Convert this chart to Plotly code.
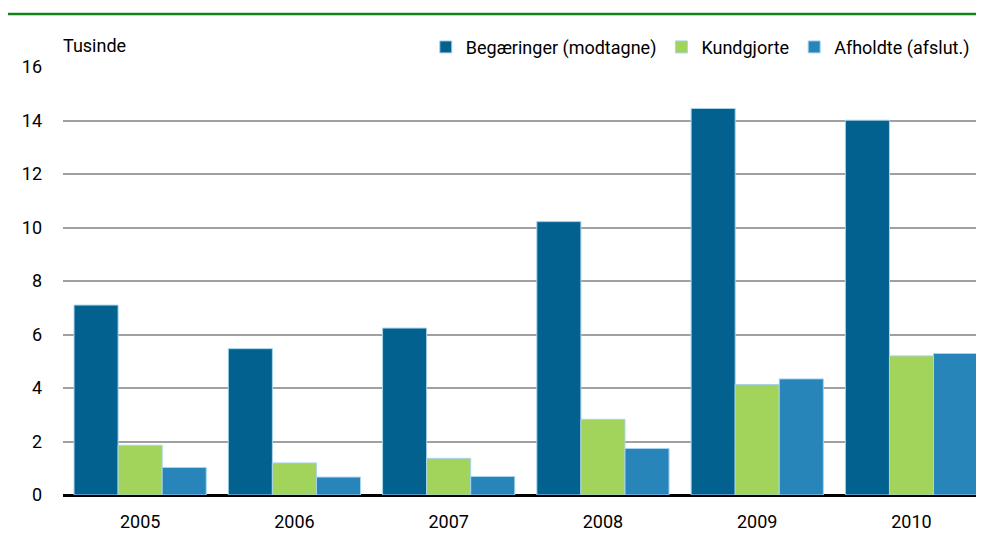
import plotly.graph_objects as go

years = ['2005', '2006', '2007', '2008', '2009', '2010']
begaeringer = [7.1, 5.47, 6.24, 10.22, 14.45, 14.01]
kundgjorte = [1.86, 1.2, 1.37, 2.83, 4.13, 5.2]
afholdte = [1.03, 0.67, 0.69, 1.74, 4.34, 5.29]

names = ['Begæringer (modtagne)', 'Kundgjorte', 'Afholdte (afslut.)']
colors = ['#036190', '#a2d35a', '#2785ba']

fig = go.Figure()
for name, vals, col in zip(names, [begaeringer, kundgjorte, afholdte], colors):
    fig.add_trace(go.Bar(x=years, y=vals, name=name, marker_color=col,
                         marker_line=dict(color='#a8d4ec', width=1)))

# page body has an 8px margin, so the figure is 8px smaller than the window
fig.update_layout(
    width=976, height=527,
    barmode='group', bargap=0.143, bargroupgap=0,
    plot_bgcolor='white', paper_bgcolor='white',
    margin=dict(l=55, r=0, t=59, b=39.5),
    font=dict(family="Roboto, sans-serif", size=18, color='black'),
    showlegend=True,
    legend=dict(orientation='h', x=0.99, xanchor='right', y=1.003, yanchor='bottom',
                font=dict(size=18), itemwidth=30, bgcolor='rgba(0,0,0,0)'),
    xaxis=dict(range=[-0.5, 5.47], showgrid=False, showline=False, ticks='',
               ticklabelstandoff=14),
    yaxis=dict(range=[0, 16], dtick=2, showgrid=True, gridcolor='#a0a0a0', gridwidth=1.5,
               zeroline=True, zerolinecolor='black', zerolinewidth=3,
               ticklabelstandoff=20),
    shapes=[dict(type='line', xref='paper', yref='paper', x0=-0.063, x1=1, y0=1.124, y1=1.124,
                 line=dict(color='#13801a', width=2.5))],
    annotations=[dict(text='Tusinde', xref='paper', yref='paper', x=-0.002, y=1.022,
                      xanchor='left', yanchor='bottom', showarrow=False, font=dict(size=18))],
)

fig.write_html("out.html")
